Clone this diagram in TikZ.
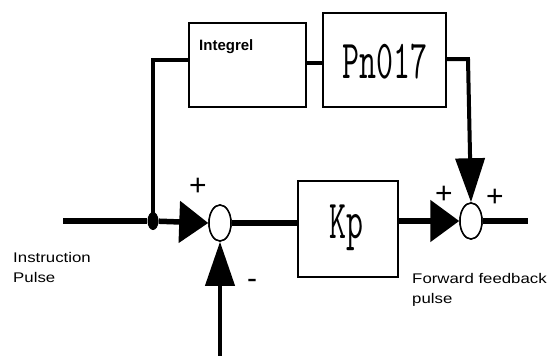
\documentclass[tikz,border=0pt]{standalone}
\usepackage{fontspec}
\setmainfont{Liberation Sans}
\usetikzlibrary{arrows.meta,shapes.geometric}
\begin{document}
\begin{tikzpicture}[x=1pt,y=-1pt,
  blk/.style={draw, line width=2.2pt, inner sep=0pt},
  sumj/.style={draw, ellipse, line width=1.5pt, inner sep=0pt, minimum width=22pt, minimum height=36pt, fill=white},
  mainln/.style={line width=5.5pt},
  fbln/.style={line width=4pt},
  bigtxt/.style={font=\fontsize{55}{55}\selectfont\ttfamily, xscale=0.6, inner sep=0pt},
  lbl/.style={font=\fontsize{14}{20}\selectfont, xscale=1.2, align=left, inner sep=0pt, anchor=north west},
  sgn/.style={font=\fontsize{30}{30}\selectfont, inner sep=0pt},
  tipH/.style={-{Triangle[length=29pt,width=41pt]}},
  tipV/.style={-{Triangle[length=44pt,width=29pt]}}
]
\useasboundingbox (0,0) rectangle (550,356);
% boxes
\node[blk, minimum width=117pt, minimum height=84pt] (int) at (247.5,65) {};
\node[blk, minimum width=123pt, minimum height=94pt] (pn) at (384.5,60) {};
\node[blk, minimum width=100pt, minimum height=96pt] (kp) at (348,229) {};
\node[font=\fontsize{15}{15}\selectfont\bfseries, anchor=base west, inner sep=0pt] (inttxt) at (199,50) {Integrel};
\node[bigtxt] (pntxt) at (385,62) {Pn017};
\node[bigtxt] (kptxt) at (346,228) {Kp};
% summing junctions
\node[sumj] (s1) at (220,223) {};
\node[sumj] (s2) at (471,221) {};
% coordinates
\coordinate (in) at (63,221);
\node[fill, ellipse, inner sep=0pt, minimum width=11pt, minimum height=18pt] (dot) at (153,221) {};
\coordinate (c1) at (153,60);
\coordinate (c2) at (468,59);
\coordinate (bot) at (220,360);
\coordinate (out) at (528,221);
% connectors
\draw[mainln] (in) -- (dot);
\draw[mainln, tipH] (dot) -- (s1.west);
\draw[fbln] (dot.center) -- (c1) -- (int.west |- c1);
\draw[fbln] (int.east |- 0,63) -- (pn.west |- 0,63);
\draw[fbln, tipV] (pn.east |- c2) -- (c2) -- (s2.north);
\draw[fbln, tipV] (bot) -- (s1.south);
\draw[mainln] (s1.east) -- (kp.west |- s1.east);
\draw[mainln, tipH] (kp.east |- s2.west) -- (s2.west);
\draw[mainln] (s2.east) -- (out);
\node[sumj] at (s1) {};
\node[sumj] at (s2) {};
% signs
\node[sgn] (p1) at (198,187) {+};
\node[sgn] (m1) at (252,284) {-};
\node[sgn] (p2) at (444,195) {+};
\node[sgn] (p3) at (495,198) {+};
% labels
\node[lbl] (instr) at (13,252) {Instruction\\Pulse};
\node[lbl] (ffp) at (412,273) {Forward feedback\\pulse};
\end{tikzpicture}
\end{document}
